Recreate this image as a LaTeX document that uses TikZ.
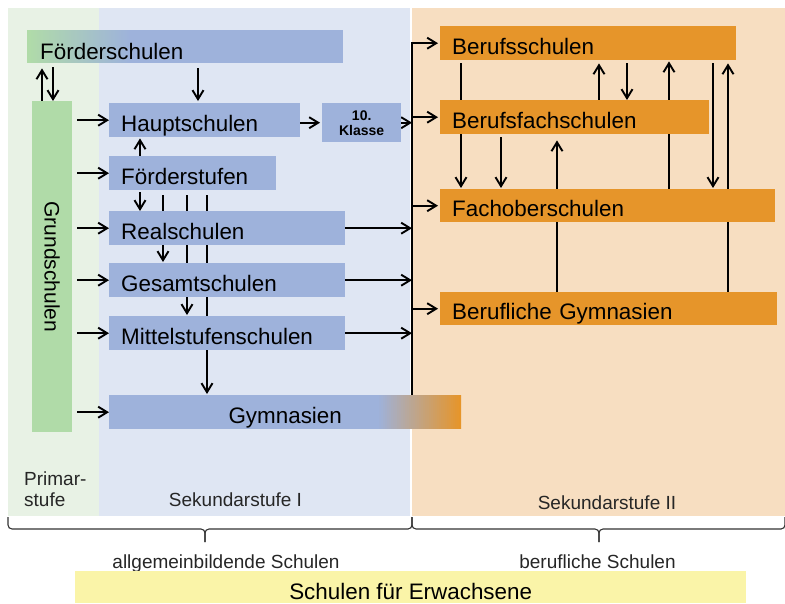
\documentclass[tikz,border=0pt]{standalone}
\usepackage{fontspec}
\setmainfont{Liberation Sans}
\usetikzlibrary{arrows.meta, positioning, calc}
\definecolor{primargruen}{RGB}{232, 242, 229}
\definecolor{sekblau}{RGB}{223, 230, 243}
\definecolor{sekorange}{RGB}{247, 222, 193}
\definecolor{boxgruen}{RGB}{176, 219, 168}
\definecolor{boxblau}{RGB}{158, 178, 219}
\definecolor{boxorange}{RGB}{230, 149, 42}
\definecolor{boxgelb}{RGB}{250, 244, 168}
\definecolor{darkgray}{RGB}{51, 51, 51}
\pgfdeclarelayer{flaechen}
\pgfdeclarelayer{linien}
\pgfsetlayers{flaechen,linien,main}

\begin{document}
\begin{tikzpicture}[
    x=1pt, y=-1pt,
    schule/.style={rectangle, anchor=north west, inner xsep=12pt, inner ysep=0pt, minimum height=34pt, text height=22pt, text depth=0pt, align=left, fill=boxblau, font=\fontsize{22.4}{26}\selectfont},
    beruf/.style={schule, fill=boxorange},
    stufe/.style={anchor=base, inner sep=0pt, text=black!85, font=\fontsize{19}{21}\selectfont},
    arrow/.style={line width=1.9pt, -{Straight Barb[length=9pt, width=11pt]}, draw=black},
    klammer/.style={line width=1.1pt, draw=darkgray, rounded corners=4pt}
]
\useasboundingbox (0,0) rectangle (785,603);

\begin{pgfonlayer}{flaechen}
\fill [primargruen] (8,8) rectangle (99,516);
\fill [sekblau] (99,8) rectangle (410,516);
\fill [sekorange] (412,8) rectangle (785,516);
\end{pgfonlayer}

\node (foerderschulen) [schule, text width=290pt, minimum height=33pt, text height=25pt, inner xsep=13pt,
    path picture={\foreach \i [evaluate=\i as \p using int(100*\i/51)] in {0,...,51}
        \fill [boxblau!\p!boxgruen] ([xshift=2*\i*1pt]path picture bounding box.north west) rectangle ([xshift=2*\i*1pt+2.5pt]path picture bounding box.south west);}] at (27,30) {Förderschulen};
\node (grundschulen) [rectangle, anchor=north west, fill=boxgruen, minimum width=40pt, minimum height=331pt, inner sep=0pt] at (32,101) {};
\node (grundschulen_text) [rotate=-90, inner sep=0pt, font=\fontsize{21}{24}\selectfont] at (grundschulen.center) {Grundschulen};

\node (hauptschulen) [schule, text width=167pt] at (109,103) {Hauptschulen};
\node (zehnte_klasse) [rectangle, anchor=north west, fill=boxblau, minimum width=79pt, minimum height=39pt, inner sep=0pt, align=center, font=\fontsize{14}{15}\selectfont\bfseries] at (322,103) {10.\\Klasse};
\node (foerderstufen) [schule, text width=143pt] at (109,156) {Förderstufen};
\node (realschulen) [schule, text width=212pt] at (109,211) {Realschulen};
\node (gesamtschulen) [schule, text width=212pt] at (109,263) {Gesamtschulen};
\node (mittelstufenschulen) [schule, text width=212pt] at (109,316) {Mittelstufenschulen};
\node (gymnasien) [schule, text width=328pt, align=center,
    path picture={\foreach \i [evaluate=\i as \p using int(100*\i/41)] in {0,...,41}
        \fill [boxorange!\p!boxblau] ([xshift=-84pt+2*\i*1pt]path picture bounding box.north east) rectangle ([xshift=-84pt+2*\i*1pt+2.5pt]path picture bounding box.south east);}] at (109,395) {Gymnasien};

\node (berufsschulen) [beruf, text width=272pt] at (440,26) {Berufsschulen};
\node (berufsfachschulen) [beruf, text width=245pt] at (440,100) {Berufsfachschulen};
\node (fachoberschulen) [beruf, text width=311pt, minimum height=33pt] at (440,189) {Fachoberschulen};
\node (berufliche_gymnasien) [beruf, text width=313pt, minimum height=33pt] at (440,292) {Berufliche Gymnasien};

\coordinate (bus_unten) at (412,397);

\begin{pgfonlayer}{linien}
\draw [arrow, shorten >=5pt] (42,0 |- grundschulen.north) -- (42,0 |- foerderschulen.south);
\draw [arrow, shorten <=4pt] (53,0 |- foerderschulen.south) -- (53,0 |- grundschulen.north);
\draw [arrow, shorten <=5pt, shorten >=2pt] (198,0 |- foerderschulen.south) -- (198,0 |- hauptschulen.north);

\draw [arrow, shorten <=5pt] (grundschulen.east |- hauptschulen.west) -- (hauptschulen.west);
\draw [arrow, shorten <=5pt] (grundschulen.east |- foerderstufen.west) -- (foerderstufen.west);
\draw [arrow, shorten <=5pt] (grundschulen.east |- realschulen.west) -- (realschulen.west);
\draw [arrow, shorten <=5pt] (grundschulen.east |- gesamtschulen.west) -- (gesamtschulen.west);
\draw [arrow, shorten <=5pt] (grundschulen.east |- mittelstufenschulen.west) -- (mittelstufenschulen.west);
\draw [arrow, shorten <=5pt] (grundschulen.east |- gymnasien.west) -- (gymnasien.west);

\draw [arrow, shorten >=1pt] (140,0 |- foerderstufen.north) -- (140,0 |- hauptschulen.south);
\draw [arrow, shorten <=2pt] (140,0 |- foerderstufen.south) -- (140,0 |- realschulen.north);
\draw [arrow, shorten <=5pt, shorten >=1pt] (163,0 |- foerderstufen.south) -- (163,0 |- gesamtschulen.north);
\draw [arrow, shorten <=5pt, shorten >=1pt] (187,0 |- foerderstufen.south) -- (187,0 |- mittelstufenschulen.north);
\draw [arrow, shorten <=5pt, shorten >=1pt] (207,0 |- foerderstufen.south) -- (207,0 |- gymnasien.north);

\draw [arrow, shorten >=2pt] (hauptschulen.east |- zehnte_klasse.west) -- (zehnte_klasse.west);
\draw [arrow] (zehnte_klasse.east) -- (bus_unten |- zehnte_klasse.east);
\draw [arrow] (realschulen.east) -- (bus_unten |- realschulen.east);
\draw [arrow] (gesamtschulen.east) -- (bus_unten |- gesamtschulen.east);
\draw [arrow] (mittelstufenschulen.east) -- (bus_unten |- mittelstufenschulen.east);

\draw [arrow, shorten >=2pt] (bus_unten) |- (berufsschulen.west);
\draw [arrow, shorten >=2pt] (bus_unten |- berufsfachschulen.west) -- (berufsfachschulen.west);
\draw [arrow, shorten >=2pt] (bus_unten |- fachoberschulen.west) -- (fachoberschulen.west);
\draw [arrow, shorten >=2pt] (bus_unten |- berufliche_gymnasien.west) -- (berufliche_gymnasien.west);

\draw [arrow, shorten <=3pt, shorten >=1pt] (461,0 |- berufsschulen.south) -- (461,0 |- fachoberschulen.north);
\draw [arrow, shorten <=3pt, shorten >=1pt] (501,0 |- berufsfachschulen.south) -- (501,0 |- fachoberschulen.north);
\draw [arrow, shorten >=6pt] (557,0 |- berufliche_gymnasien.north) -- (557,0 |- berufsfachschulen.south);
\draw [arrow, shorten >=3pt] (599,0 |- berufsfachschulen.north) -- (599,0 |- berufsschulen.south);
\draw [arrow, shorten <=3pt] (627,0 |- berufsschulen.south) -- (627,0 |- berufsfachschulen.north);
\draw [arrow, shorten >=1pt] (669,0 |- fachoberschulen.north) -- (669,0 |- berufsschulen.south);
\draw [arrow, shorten <=3pt, shorten >=1pt] (713,0 |- berufsschulen.south) -- (713,0 |- fachoberschulen.north);
\draw [arrow, shorten >=3pt] (728,0 |- berufliche_gymnasien.north) -- (728,0 |- berufsschulen.south);
\end{pgfonlayer}

\node (primar_label) [stufe, anchor=west, align=left] at (24,489) {Primar-\\stufe};
\node (sek1_label) [stufe] at (235.5,506) {Sekundarstufe I};
\node (sek2_label) [stufe] at (607,509) {Sekundarstufe II};

\draw [klammer] (8,517) |- (205,529) -- (205,542);
\draw [klammer] (205,542) -- (205,529) -| (412,517);
\draw [klammer] (412,517) |- (599,529) -- (599,542);
\draw [klammer] (599,542) -- (599,529) -| (785,517);

\node (allgemein_label) [stufe] at (226,568) {allgemeinbildende Schulen};
\node (beruflich_label) [stufe] at (597.5,568) {berufliche Schulen};
\node (erwachsene) [rectangle, anchor=north west, fill=boxgelb, minimum width=671pt, minimum height=32pt, inner sep=0pt, text height=24pt, text depth=0pt, font=\fontsize{22.4}{26}\selectfont] at (75,571) {Schulen für Erwachsene};

\end{tikzpicture}
\end{document}
